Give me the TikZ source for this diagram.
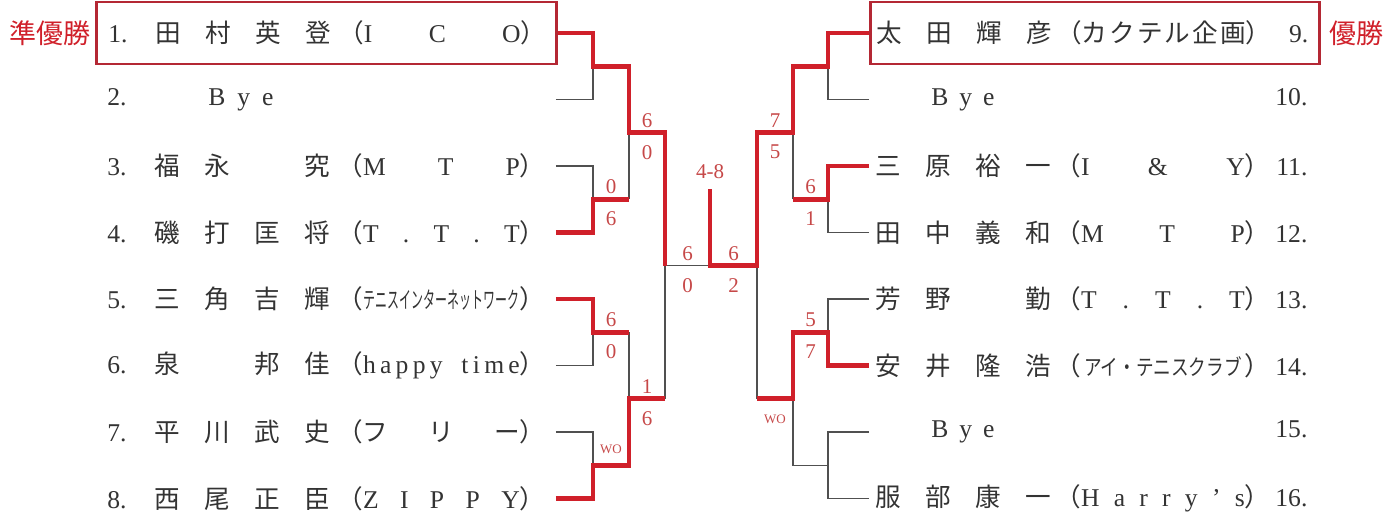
\documentclass[tikz,border=0pt]{standalone}
\usepackage{fontspec}
\usepackage{graphicx}
\setmainfont{Liberation Serif}
\newfontfamily\cjk{Noto Sans CJK JP}
\usetikzlibrary{positioning, calc}

\definecolor{winred}{RGB}{208,32,42}
\definecolor{boxred}{RGB}{180,40,52}
\definecolor{scorered}{RGB}{198,72,72}
\definecolor{inkgray}{RGB}{51,51,51}
\definecolor{linegray}{RGB}{80,80,80}

% full-width brackets round the club names
\newcommand{\fwl}{{\cjk （}}
\newcommand{\fwr}{{\cjk ）}}
% left-hand entry: number, four name cells, club
\newcommand{\lrow}[6]{\hbox to 230pt{\kern6pt\rlap{#1}\kern30pt\makebox[0pt]{\cjk #2}\kern25pt\makebox[0pt]{\cjk #3}\kern25pt\makebox[0pt]{\cjk #4}\kern25pt\makebox[0pt]{\cjk #5}\kern10pt\makebox[104pt][s]{#6}\hfil}}
% right-hand entry: four name cells, club, number
\newcommand{\rrow}[6]{\hbox to 224.5pt{\kern9.5pt\makebox[0pt]{\cjk #1}\kern25pt\makebox[0pt]{\cjk #2}\kern25pt\makebox[0pt]{\cjk #3}\kern25pt\makebox[0pt]{\cjk #4}\kern8.5pt\makebox[107.5pt][s]{#5}\hfil\llap{#6}\kern5.5pt}}
% empty draw slots
\newcommand{\lbye}[1]{\hbox to 230pt{\kern6pt\rlap{#1}\kern50.5pt\makebox[32.5pt][s]{B\hfil y\hfil e}\hfil}}
\newcommand{\rbye}[1]{\hbox to 224.5pt{\kern31pt\makebox[31.5pt][s]{B\hfil y\hfil e}\hfil\llap{#1}\kern5.5pt}}

\begin{document}
\begin{tikzpicture}[
    x=0.5pt, y=-0.5pt, % one unit = one pixel, y runs down
    row/.style={anchor=west, inner sep=0pt, minimum height=31pt, text=inkgray, font=\fontsize{12.8}{14}\selectfont},
    champ/.style={row, draw=boxred, line width=1.3pt}, % framed finalists
    loser/.style={draw=linegray, line width=0.7pt},
    winner/.style={draw=winred, line width=2.3pt},
    score/.style={text=scorered, inner sep=1pt, font=\fontsize{10.5}{12}\selectfont},
    hi/.style={score, above=1.5pt},
    lo/.style={score, below=5pt},
    wo/.style={text=scorered, inner sep=1pt, font=\fontsize{6.5}{7}\selectfont},
    title/.style={text=winred, inner sep=0pt, font=\cjk\fontsize{13.5}{15}\selectfont}
]
\useasboundingbox (0,0) rectangle (1400,515);

% Left half of the draw
\node[champ] (p1) at (95,33) {\lrow{1.}{田}{村}{英}{登}{\fwl I\hfill C\hfill O\fwr}};
\node[row] (p2) at (95,99.5) {\lbye{2.}};
\node[row] (p3) at (95,166) {\lrow{3.}{福}{永}{}{究}{\fwl M\hfill T\hfill P\fwr}};
\node[row] (p4) at (95,232.5) {\lrow{4.}{磯}{打}{匡}{将}{\fwl T\hfill .\hfill T\hfill .\hfill T\fwr}};
\node[row] (p5) at (95,299) {\lrow{5.}{三}{角}{吉}{輝}{\fwl\hfil\scalebox{0.52}[1]{\cjk\fontsize{11.5}{13}\selectfont テニスインターネットワーク}\hfil\fwr}};
\node[row] (p6) at (95,365.5) {\lrow{6.}{泉}{}{邦}{佳}{\fwl h\,a\,p\,p\,y\hfill t\,i\,m\,e\fwr}};
\node[row] (p7) at (95,432) {\lrow{7.}{平}{川}{武}{史}{\fwl{\cjk フ\hfill リ\hfill ー}\fwr}};
\node[row] (p8) at (95,498.5) {\lrow{8.}{西}{尾}{正}{臣}{\fwl Z\hfill I\hfill P\hfill P\hfill Y\fwr}};

% Right half of the draw
\node[champ] (p9) at (869,33) {\rrow{太}{田}{輝}{彦}{\fwl{\cjk カ\hfill ク\hfill テ\hfill ル\hfill 企\hfill 画}\fwr}{9.}};
\node[row] (p10) at (869,99.5) {\rbye{10.}};
\node[row] (p11) at (869,166) {\rrow{三}{原}{裕}{一}{\fwl I\hfill\&\hfill Y\fwr}{11.}};
\node[row] (p12) at (869,232.5) {\rrow{田}{中}{義}{和}{\fwl M\hfill T\hfill P\fwr}{12.}};
\node[row] (p13) at (869,299) {\rrow{芳}{野}{}{勤}{\fwl T\hfill .\hfill T\hfill .\hfill T\fwr}{13.}};
\node[row] (p14) at (869,365.5) {\rrow{安}{井}{隆}{浩}{\fwl\hfil\scalebox{0.8}[1]{\cjk\fontsize{11}{13}\selectfont アイ・テニスクラブ}\hfil\fwr}{14.}};
\node[row] (p15) at (869,432) {\rbye{15.}};
\node[row] (p16) at (869,498.5) {\rrow{服}{部}{康}{一}{\fwl H\hfill a\hfill r\hfill r\hfill y\hfill ’\hfill s\fwr}{16.}};

\node[title, left=2pt of p1] (runnerup) {準優勝};
\node[title, right=4pt of p9] (champion) {優勝};

% Bracket joints
\coordinate (j12) at (593,66.25);
\coordinate (j34) at (593,199.25);
\coordinate (j56) at (593,332.25);
\coordinate (j78) at (593,465.25);
\coordinate (k14) at (629,132.75);
\coordinate (k58) at (629,398.75);
\coordinate (m1) at (665,265.75);
\coordinate (c0) at (710,265.75);
\coordinate (ct) at (710,189);
\coordinate (m2) at (757,265.75);
\coordinate (q912) at (793,132.75);
\coordinate (q1316) at (793,398.75);
\coordinate (n910) at (828,66.25);
\coordinate (n1112) at (828,199.25);
\coordinate (n1314) at (828,332.25);
\coordinate (n1516) at (828,465.25);

% Losing branches
\draw[loser] (p2.east) -| (j12);
\draw[loser] (p3.east) -| (j34);
\draw[loser] (p6.east) -| (j56);
\draw[loser] (p7.east) -| (j78);
\draw[loser] (j34 -| k14) -- (k14);
\draw[loser] (j56 -| k58) -- (k58);
\draw[loser] (k58 -| m1) -- (m1) -- (c0);
\draw[loser] (p10.west) -| (n910);
\draw[loser] (p12.west) -| (n1112);
\draw[loser] (p13.west) -| (n1314);
\draw[loser] (p15.west) -| (n1516);
\draw[loser] (p16.west) -| (n1516) -| (q1316);
\draw[loser] (n1112 -| q912) -- (q912);
\draw[loser] (q1316 -| m2) -- (m2);

% Winning runs
\draw[winner] (p1.east) -| (j12) -| (k14) -| (m1);
\draw[winner] (p4.east) -| (j34) -- (j34 -| k14);
\draw[winner] (p5.east) -| (j56) -- (j56 -| k58);
\draw[winner] (p8.east) -| (j78) -| (k58) -- (k58 -| m1);
\draw[winner] (p9.west) -| (n910) -| (q912) -| (m2) -- (c0) -- (ct);
\draw[winner] (p11.west) -| (n1112) -- (n1112 -| q912);
\draw[winner] (p14.west) -| (n1314) -| (q1316) -- (q1316 -| m2);

% Scores
\node[hi] (s1) at ($(k14)!0.5!(k14 -| m1)$) {6};
\node[lo] (s2) at ($(k14)!0.5!(k14 -| m1)$) {0};
\node[hi] (s3) at ($(j34)!0.5!(j34 -| k14)$) {0};
\node[lo] (s4) at ($(j34)!0.5!(j34 -| k14)$) {6};
\node[hi] (s5) at ($(j56)!0.5!(j56 -| k58)$) {6};
\node[lo] (s6) at ($(j56)!0.5!(j56 -| k58)$) {0};
\node[hi] (s7) at ($(k58)!0.5!(k58 -| m1)$) {1};
\node[lo] (s8) at ($(k58)!0.5!(k58 -| m1)$) {6};
\node[wo, above=4.5pt] (s9) at ($(j78)!0.5!(j78 -| k14)$) {WO};
\node[hi] (s10) at ($(m1)!0.5!(c0)$) {6};
\node[lo] (s11) at ($(m1)!0.5!(c0)$) {0};
\node[score, above=4pt] (s12) at (ct) {4-8};
\node[hi] (s13) at ($(c0)!0.5!(m2)$) {6};
\node[lo] (s14) at ($(c0)!0.5!(m2)$) {2};
\node[hi] (s15) at ($(q912)!0.5!(q912 -| m2)$) {7};
\node[lo] (s16) at ($(q912)!0.5!(q912 -| m2)$) {5};
\node[hi] (s17) at ($(n1112)!0.5!(n1112 -| q912)$) {6};
\node[lo] (s18) at ($(n1112)!0.5!(n1112 -| q912)$) {1};
\node[hi] (s19) at ($(n1314)!0.5!(n1314 -| q912)$) {5};
\node[lo] (s20) at ($(n1314)!0.5!(n1314 -| q912)$) {7};
\node[wo, below=7pt] (s21) at ($(q1316)!0.5!(q1316 -| m2)$) {WO};

\end{tikzpicture}
\end{document}
